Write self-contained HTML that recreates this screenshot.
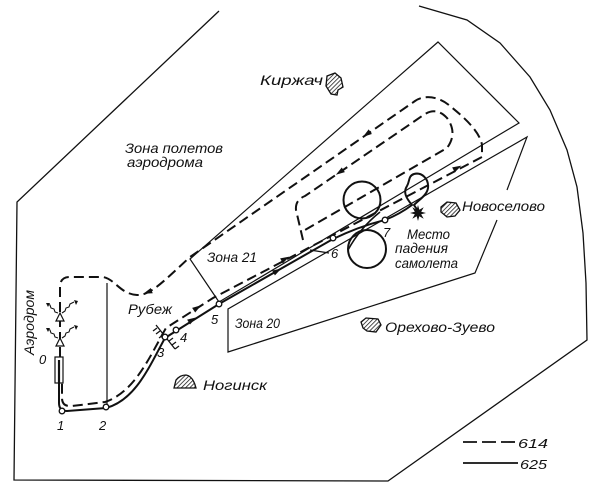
<!DOCTYPE html>
<html>
<head>
<meta charset="utf-8">
<style>
  html,body{margin:0;padding:0;background:#fff;}
  svg{display:block;}
  text{font-family:"Liberation Sans","DejaVu Sans",sans-serif;font-style:italic;fill:#111;}
</style>
</head>
<body>
<svg width="604" height="492" viewBox="0 0 604 492" xmlns="http://www.w3.org/2000/svg">
  <defs>
    <pattern id="h" width="3" height="3" patternUnits="userSpaceOnUse" patternTransform="rotate(45)">
      <line x1="0" y1="0" x2="0" y2="3" stroke="#111" stroke-width="1.5"/>
    </pattern>
  </defs>
  <rect width="604" height="492" fill="#fff"/>

  <!-- outer border -->
  <polyline fill="none" stroke="#111" stroke-width="1.3"
    points="219,11 17,202 14,480 388,481 587,340 586,283 583,233 577,187 567,150 550,110 530,77 500,43 467,20 419,6"/>

  <!-- zone 21 -->
  <path d="M219,302 L190,259 L438,42 L519,123 Z" fill="none" stroke="#111" stroke-width="1.2"/>
  <!-- zone 20 -->
  <path d="M507,190 L527,137 L228,309 L228,352 L475,273 L497,220" fill="none" stroke="#111" stroke-width="1.2"/>

  <!-- aerodrome rectangle right side -->
  <line x1="107" y1="283" x2="107" y2="405" stroke="#111" stroke-width="1.2"/>

  <!-- route 614 dashed main -->
  <path d="M60,357 L60,287 Q60,277 70,277 L103,277 C115,279 120,294 137,295 C150,296 165,280 190,257 L415,101 C425,94 440,97 450,106 C465,118 480,132 482,145 L482,157 L213,298 L166,328 C150,356 135,392 105,402 L72,406 Q62,407 62,398 L62,383"
    fill="none" stroke="#111" stroke-width="2" stroke-dasharray="10 5"/>
  <!-- inner loop dashed -->
  <path d="M303,240 L296,210 Q295,200 305,196 L425,114 Q437,107 447,118 Q458,133 447,148 L305,230"
    fill="none" stroke="#111" stroke-width="2" stroke-dasharray="10 5"/>

  <!-- route 625 solid -->
  <path d="M59,362 L59,403 Q59,411 67,411 L106,408 C136,400 150,365 165,338 L176,331 L219,304 L333,239 Q360,226 385,220 Q400,214 412,205 C406,198 403,192 407,186 C410,181 408,176 414,174 C421,172 429,178 428,188 C427,195 420,199 414,205 L418,211"
    fill="none" stroke="#111" stroke-width="2"/>
  <!-- figure-8 circles -->
  <circle cx="362" cy="200" r="18.5" fill="none" stroke="#111" stroke-width="2"/>
  <circle cx="367" cy="249" r="19" fill="none" stroke="#111" stroke-width="2"/>
  <path d="M348,250 Q360,228 380,212" fill="none" stroke="#111" stroke-width="1.6"/>
  <line x1="310" y1="250" x2="329" y2="253" stroke="#111" stroke-width="1.3"/>

  <!-- runway -->
  <rect x="55" y="357" width="8" height="26" fill="#fff" stroke="#111" stroke-width="1.2"/>
  <line x1="59" y1="360" x2="59" y2="383" stroke="#111" stroke-width="2.2"/>

  <!-- antennas -->
  <g fill="#fff" stroke="#111" stroke-width="1.2">
    <polygon points="60,313 56,321 64,321"/>
    <polygon points="60,338 56,346 64,346"/>
  </g>
  <g fill="none" stroke="#111" stroke-width="1.1">
    <path d="M58,313 l-3,-1 l-1,-3 l-3,-1 l-1,-3 l-3,-1"/>
    <path d="M62,313 l3,-2 l1,-3 l3,-1 l1,-3 l4,-2"/>
    <path d="M58,338 l-3,-1 l-1,-3 l-3,-1 l-1,-3 l-3,-1"/>
    <path d="M62,338 l3,-2 l1,-3 l3,-1 l1,-3 l4,-2"/>
  </g>
  <g fill="#111">
    <polygon points="46,303 50,303 48,307"/>
    <polygon points="78,301 74,300 76,305"/>
    <polygon points="46,328 50,328 48,332"/>
    <polygon points="78,326 74,325 76,330"/>
  </g>

  <!-- rubezh mark -->
  <g stroke="#111" stroke-width="1.3">
    <line x1="156" y1="325" x2="175" y2="349"/>
    <line x1="157" y1="328" x2="153" y2="331"/>
    <line x1="160" y1="331" x2="156" y2="334"/>
    <line x1="163" y1="335" x2="159" y2="338"/>
    <line x1="169" y1="341" x2="173" y2="338"/>
    <line x1="172" y1="345" x2="176" y2="342"/>
    <line x1="175" y1="349" x2="179" y2="346"/>
  </g>

  <!-- arrows -->
  <g fill="#111">
    <polygon points="5,0 -4,-2.8 -4,2.8" transform="translate(367,134) rotate(145)"/>
    <polygon points="5,0 -4,-2.8 -4,2.8" transform="translate(340,172) rotate(146)"/>
    <polygon points="5,0 -4,-2.8 -4,2.8" transform="translate(285,259) rotate(-28)"/>
    <polygon points="5,0 -4,-2.8 -4,2.8" transform="translate(277,271) rotate(-30)"/>
    <polygon points="5,0 -4,-2.8 -4,2.8" transform="translate(192,320) rotate(-31)"/>
    <polygon points="5,0 -4,-2.8 -4,2.8" transform="translate(197,308) rotate(-33)"/>
    <polygon points="5,0 -4,-2.8 -4,2.8" transform="translate(457,168) rotate(-28)"/>
    <polygon points="5,0 -4,-2.8 -4,2.8" transform="translate(148,292) rotate(160)"/>
  </g>

  <!-- points -->
  <g fill="#fff" stroke="#111" stroke-width="1.3">
    <circle cx="62" cy="411" r="2.8"/>
    <circle cx="106" cy="407" r="2.8"/>
    <circle cx="165" cy="337" r="2.8"/>
    <circle cx="176" cy="330" r="2.8"/>
    <circle cx="219" cy="304" r="2.8"/>
    <circle cx="333" cy="238" r="2.8"/>
    <circle cx="385" cy="220" r="2.8"/>
  </g>

  <!-- crash star -->
  <polygon fill="#111" points="418,205 419.3,209.8 423.7,207.3 421.2,211.7 426,213 421.2,214.3 423.7,218.7 419.3,216.2 418,221 416.7,216.2 412.3,218.7 414.8,214.3 410,213 414.8,211.7 412.3,207.3 416.7,209.8"/>

  <!-- settlements -->
  <g fill="url(#h)" stroke="#111" stroke-width="1.3">
    <polygon points="327,76 335,73 341,78 343,87 338,90 337,95 331,94 326,86"/>
    <polygon points="441,207 447,202 456,203 460,210 455,216 447,217 441,212"/>
    <path d="M174,388 L176,380 Q180,375 186,375 Q193,376 196,388 Z"/>
    <polygon points="361,322 366,318 378,319 381,325 376,332 367,331 363,328"/>
  </g>

  <!-- labels -->
  <g font-size="14">
    <text x="125" y="153" textLength="98" lengthAdjust="spacingAndGlyphs">Зона полетов</text>
    <text x="127" y="167" textLength="76" lengthAdjust="spacingAndGlyphs">аэродрома</text>
    <text x="260" y="85" textLength="63" lengthAdjust="spacingAndGlyphs">Киржач</text>
    <text x="462" y="211" textLength="83" lengthAdjust="spacingAndGlyphs">Новоселово</text>
    <text x="407" y="239" textLength="43" lengthAdjust="spacingAndGlyphs">Место</text>
    <text x="395" y="253" textLength="53" lengthAdjust="spacingAndGlyphs">падения</text>
    <text x="395" y="268" textLength="63" lengthAdjust="spacingAndGlyphs">самолета</text>
    <text x="207" y="262" textLength="50" lengthAdjust="spacingAndGlyphs">Зона 21</text>
    <text x="128" y="314" textLength="44" lengthAdjust="spacingAndGlyphs">Рубеж</text>
    <text x="235" y="328" textLength="45" lengthAdjust="spacingAndGlyphs">Зона 20</text>
    <text x="385" y="332" textLength="110" lengthAdjust="spacingAndGlyphs">Орехово-Зуево</text>
    <text x="203" y="390" textLength="64" lengthAdjust="spacingAndGlyphs">Ногинск</text>
    <text transform="translate(34,355) rotate(-90)" textLength="65" lengthAdjust="spacingAndGlyphs">Аэродром</text>
  </g>
  <g font-size="13">
    <text x="39" y="364">0</text>
    <text x="57" y="430">1</text>
    <text x="99" y="430">2</text>
    <text x="157" y="357">3</text>
    <text x="180" y="342">4</text>
    <text x="211" y="324">5</text>
    <text x="331" y="258">6</text>
    <text x="383" y="237">7</text>
    <text x="518" y="448" textLength="30" lengthAdjust="spacingAndGlyphs">614</text>
    <text x="520" y="469" textLength="27" lengthAdjust="spacingAndGlyphs">625</text>
  </g>

  <!-- legend -->
  <line x1="463" y1="442" x2="517" y2="442" stroke="#111" stroke-width="1.8" stroke-dasharray="14 5"/>
  <line x1="463" y1="463" x2="518" y2="463" stroke="#111" stroke-width="1.8"/>
</svg>
</body>
</html>
